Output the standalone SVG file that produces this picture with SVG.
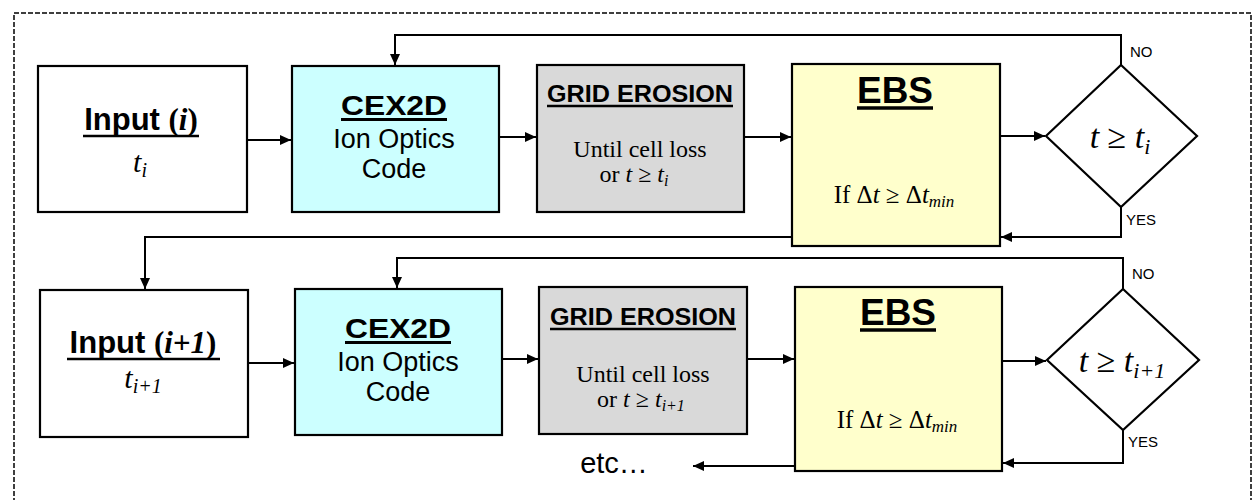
<svg xmlns="http://www.w3.org/2000/svg" width="1254" height="500" viewBox="0 0 1254 500">
<style>
.box{stroke:#000;stroke-width:2.2}
.w{fill:#fff}.c{fill:#ccffff}.g{fill:#d9d9d9}.y{fill:#ffffcc}
.ln{fill:none;stroke:#000;stroke-width:2}
.ul{stroke:#000}
.sb{font-family:"Liberation Sans",Arial,sans-serif;font-weight:bold;fill:#000}
.s{font-family:"Liberation Sans",Arial,sans-serif;fill:#000}
.t{font-family:"Liberation Serif","Times New Roman",serif;fill:#000}
.i{font-style:italic}
</style>
<defs>
<marker id="ah" markerUnits="userSpaceOnUse" markerWidth="12" markerHeight="10" refX="11" refY="5" orient="auto">
<path d="M0,0 L11,5 L0,10 Z" fill="#000"/>
</marker>
</defs>
<rect x="14" y="13" width="1237" height="520" fill="none" stroke="#000" stroke-width="1.5" stroke-dasharray="5,2"/>

<g id="connectors" class="ln">
<path d="M247,140 H291" marker-end="url(#ah)"/>
<path d="M499,137 H536" marker-end="url(#ah)"/>
<path d="M744,137 H791" marker-end="url(#ah)"/>
<path d="M1000,136 H1045" marker-end="url(#ah)"/>
<path d="M1121,65 V35 H395 V65" marker-end="url(#ah)"/>
<path d="M1121,207 V237 H1001" marker-end="url(#ah)"/>
<path d="M792,237 H145 V289" marker-end="url(#ah)"/>
<path d="M248,363 H294" marker-end="url(#ah)"/>
<path d="M502,359 H538" marker-end="url(#ah)"/>
<path d="M747,359 H794" marker-end="url(#ah)"/>
<path d="M1002,361 H1046" marker-end="url(#ah)"/>
<path d="M1123,289 V258 H397 V288" marker-end="url(#ah)"/>
<path d="M1123,430 V463 H1003" marker-end="url(#ah)"/>
<path d="M795,466 H693" marker-end="url(#ah)"/>
</g>

<g id="input1">
<rect class="box w" x="38" y="66" width="209" height="146"/>
<text x="141" y="130" text-anchor="middle" font-size="31"><tspan class="sb">Input </tspan><tspan class="t" font-weight="bold">(<tspan class="i">i</tspan>)</tspan></text>
<line class="ul" x1="83" y1="136" x2="199" y2="136" stroke-width="2.5"/>
<text x="140" y="172" text-anchor="middle" class="t i" font-size="30">t<tspan font-size="20" dy="5">i</tspan></text>
</g>

<g id="cex2d1">
<rect class="box c" x="292" y="66" width="207" height="146"/>
<text x="394" y="115" text-anchor="middle" class="sb" font-size="27" textLength="106" lengthAdjust="spacingAndGlyphs">CEX2D</text>
<line class="ul" x1="341" y1="119.5" x2="447" y2="119.5" stroke-width="3"/>
<text x="394" y="148" text-anchor="middle" class="s" font-size="27">Ion Optics</text>
<text x="394" y="178" text-anchor="middle" class="s" font-size="27">Code</text>
</g>

<g id="grid1">
<rect class="box g" x="537" y="65" width="207" height="147"/>
<text x="640" y="102" text-anchor="middle" class="sb" font-size="23" textLength="186" lengthAdjust="spacingAndGlyphs">GRID EROSION</text>
<line class="ul" x1="547" y1="106" x2="733" y2="106" stroke-width="2.5"/>
<text x="640" y="157" text-anchor="middle" class="t" font-size="24">Until cell loss</text>
<text x="634" y="182" text-anchor="middle" class="t" font-size="24">or <tspan class="i">t</tspan> ≥ <tspan class="i">t</tspan><tspan class="i" font-size="16" dy="4">i</tspan></text>
</g>

<g id="ebs1">
<rect class="box y" x="792" y="64" width="208" height="182"/>
<text x="895" y="103" text-anchor="middle" class="sb" font-size="36" textLength="76" lengthAdjust="spacingAndGlyphs">EBS</text>
<line class="ul" x1="857" y1="108" x2="933" y2="108" stroke-width="3.5"/>
<text x="894" y="203" text-anchor="middle" class="t" font-size="25">If  Δ<tspan class="i">t</tspan> ≥ Δ<tspan class="i">t</tspan><tspan class="i" font-size="17" dy="4">min</tspan></text>
</g>

<g id="decision1">
<polygon class="box w" points="1121,65 1197,136 1121,207 1046,136"/>
<text x="1120" y="148" text-anchor="middle" class="t" font-size="34"><tspan class="i">t</tspan> ≥ <tspan class="i">t</tspan><tspan class="i" font-size="22" dy="6">i</tspan></text>
<text x="1130" y="57" class="s" font-size="15">NO</text>
<text x="1126" y="225" class="s" font-size="15">YES</text>
</g>

<g id="input2">
<rect class="box w" x="40" y="290" width="208" height="147"/>
<text x="143" y="353" text-anchor="middle" font-size="31"><tspan class="sb">Input </tspan><tspan class="t" font-weight="bold">(<tspan class="i">i</tspan>+<tspan class="i">1</tspan>)</tspan></text>
<line class="ul" x1="67" y1="359" x2="220" y2="359" stroke-width="2.5"/>
<text x="143" y="388" text-anchor="middle" class="t i" font-size="30">t<tspan font-size="20" dy="5">i+1</tspan></text>
</g>

<g id="cex2d2">
<rect class="box c" x="295" y="289" width="207" height="146"/>
<text x="398" y="338" text-anchor="middle" class="sb" font-size="27" textLength="106" lengthAdjust="spacingAndGlyphs">CEX2D</text>
<line class="ul" x1="345" y1="342.5" x2="451" y2="342.5" stroke-width="3"/>
<text x="398" y="371" text-anchor="middle" class="s" font-size="27">Ion Optics</text>
<text x="398" y="401" text-anchor="middle" class="s" font-size="27">Code</text>
</g>

<g id="grid2">
<rect class="box g" x="539" y="287" width="208" height="147"/>
<text x="643" y="325" text-anchor="middle" class="sb" font-size="23" textLength="186" lengthAdjust="spacingAndGlyphs">GRID EROSION</text>
<line class="ul" x1="550" y1="329" x2="736" y2="329" stroke-width="2.5"/>
<text x="643" y="382" text-anchor="middle" class="t" font-size="24">Until cell loss</text>
<text x="641" y="407" text-anchor="middle" class="t" font-size="24">or <tspan class="i">t</tspan> ≥ <tspan class="i">t</tspan><tspan class="i" font-size="16" dy="4">i+1</tspan></text>
</g>

<g id="ebs2">
<rect class="box y" x="795" y="287" width="207" height="184"/>
<text x="898" y="325" text-anchor="middle" class="sb" font-size="36" textLength="76" lengthAdjust="spacingAndGlyphs">EBS</text>
<line class="ul" x1="860" y1="330" x2="936" y2="330" stroke-width="3.5"/>
<text x="897" y="428" text-anchor="middle" class="t" font-size="25">If  Δ<tspan class="i">t</tspan> ≥ Δ<tspan class="i">t</tspan><tspan class="i" font-size="17" dy="4">min</tspan></text>
</g>

<g id="decision2">
<polygon class="box w" points="1123,289 1199,360 1123,430 1047,360"/>
<text x="1122" y="372" text-anchor="middle" class="t" font-size="34"><tspan class="i">t</tspan> ≥ <tspan class="i">t</tspan><tspan class="i" font-size="22" dy="6">i+1</tspan></text>
<text x="1132" y="279" class="s" font-size="15">NO</text>
<text x="1128" y="447" class="s" font-size="15">YES</text>
</g>

<g id="etc">
<text x="614" y="473" text-anchor="middle" class="s" font-size="29">etc…</text>
</g>
</svg>
